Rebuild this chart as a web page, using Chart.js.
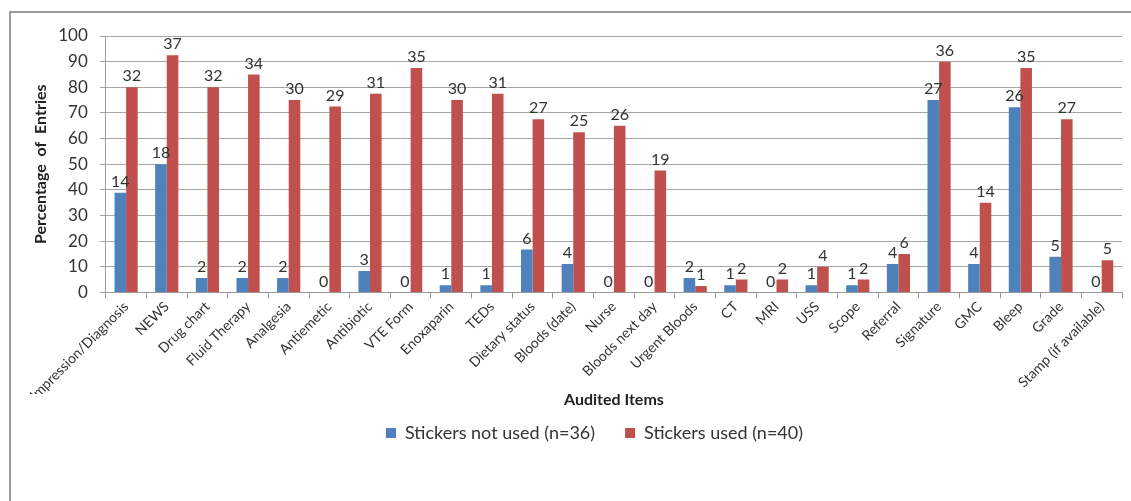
<!DOCTYPE html>
<html>
<head>
<meta charset="utf-8">
<script src="https://cdn.jsdelivr.net/npm/chart.js@4"></script>
<style>
  html, body { margin: 0; padding: 0; background: #fff; }
  #frame {
    position: absolute; left: 9px; top: 11px;
    width: 1122px; height: 490px;
    border-left: 2px solid #9a9a9a; border-top: 2px solid #9a9a9a;
  }
  canvas { display: block; }
</style>
</head>
<body>
<div id="frame"><canvas id="audit" width="1122" height="490"></canvas></div>
<script>
// categories and values
const items = ['Impression/Diagnosis', 'NEWS', 'Drug chart', 'Fluid Therapy', 'Analgesia', 'Antiemetic',
  'Antibiotic', 'VTE Form', 'Enoxaparin', 'TEDs', 'Dietary status', 'Bloods (date)', 'Nurse',
  'Bloods next day', 'Urgent Bloods', 'CT', 'MRI', 'USS', 'Scope', 'Referral', 'Signature', 'GMC',
  'Bleep', 'Grade', 'Stamp (if available)'];

// percentage of entries (bar heights)
const notUsedPct = [38.9, 50, 5.6, 5.6, 5.6, 0, 8.3, 0, 2.8, 2.8, 16.7, 11.1, 0, 0, 5.6, 2.8, 0, 2.8, 2.8, 11.1, 75, 11.1, 72.2, 13.9, 0];
const usedPct = [80, 92.5, 80, 85, 75, 72.5, 77.5, 87.5, 75, 77.5, 67.5, 62.5, 65, 47.5, 2.5, 5, 5, 10, 5, 15, 90, 35, 87.5, 67.5, 12.5];

// number of entries (labels above bars)
const notUsedCounts = [14, 18, 2, 2, 2, 0, 3, 0, 1, 1, 6, 4, 0, 0, 2, 1, 0, 1, 1, 4, 27, 4, 26, 5, 0];
const usedCounts = [32, 37, 32, 34, 30, 29, 31, 35, 30, 31, 27, 25, 26, 19, 1, 2, 2, 4, 2, 6, 36, 14, 35, 27, 5];

const yTicks = [0, 10, 20, 30, 40, 50, 60, 70, 80, 90, 100];

const countLabels = {
    id: 'countLabels',
    afterDatasetsDraw: chart => {
        const ctx = chart.ctx;
        ctx.save();
        ctx.font = '16px Lato';
        ctx.fillStyle = '#333';
        ctx.textAlign = 'center';
        ctx.textBaseline = 'bottom';
        chart.data.datasets.forEach((ds, i) => {
            const meta = chart.getDatasetMeta(i);
            meta.data.forEach((bar, j) => {
                ctx.fillText(String(ds.counts[j]), bar.x, bar.y - 3);
            });
        });
        ctx.restore();
    }
};

// the legend in the original sits a little right of centre
const legendShift = {
    id: 'legendShift',
    afterLayout: chart => {
        chart.legend.left += 18;
        chart.legend.right += 18;
    }
};

Chart.defaults.font.family = 'Lato';
Chart.defaults.color = '#333';

new Chart(document.getElementById('audit').getContext('2d'), {
    type: 'bar',
    data: {
        labels: items,
        datasets: [
            {
                label: 'Stickers not used (n=36)',
                data: notUsedPct,
                counts: notUsedCounts,
                backgroundColor: '#4F81BD',
                borderWidth: 0
            },
            {
                label: 'Stickers used (n=40)',
                data: usedPct,
                counts: usedCounts,
                backgroundColor: '#C0504D',
                borderWidth: 0
            }
        ]
    },
    options: {
        responsive: false,
        animation: false,
        datasets: { bar: { categoryPercentage: 0.57, barPercentage: 1.0 } },
        layout: { padding: { left: 20, right: 11, top: 23, bottom: 51 } },
        plugins: {
            tooltip: { enabled: false },
            legend: {
                position: 'bottom',
                labels: {
                    boxWidth: 10, boxHeight: 10, padding: 30,
                    font: { size: 18 }, color: '#333'
                }
            }
        },
        scales: {
            x: {
                grid: { drawOnChartArea: false, color: '#9a9a9a', tickLength: 6 },
                border: { color: '#9a9a9a' },
                ticks: { minRotation: 45, maxRotation: 45, font: { size: 14 }, color: '#333', padding: 0 },
                title: { display: true, text: 'Audited Items', font: { size: 16, weight: 'bold' }, color: '#222', padding: { top: -14, bottom: -15 } }
            },
            y: {
                min: 0,
                max: 100,
                afterBuildTicks: axis => { axis.ticks = yTicks.map(v => ({ value: v })); },
                grid: { color: '#a6a6a6', tickLength: 6 },
                border: { color: '#9a9a9a' },
                ticks: { font: { size: 17 }, color: '#333', padding: 12 },
                title: { display: true, text: 'Percentage  of  Entries', font: { size: 16, weight: 'bold' }, color: '#222', padding: { top: 0, bottom: -4 } }
            }
        }
    },
    plugins: [countLabels, legendShift]
});
</script>
</body>
</html>
